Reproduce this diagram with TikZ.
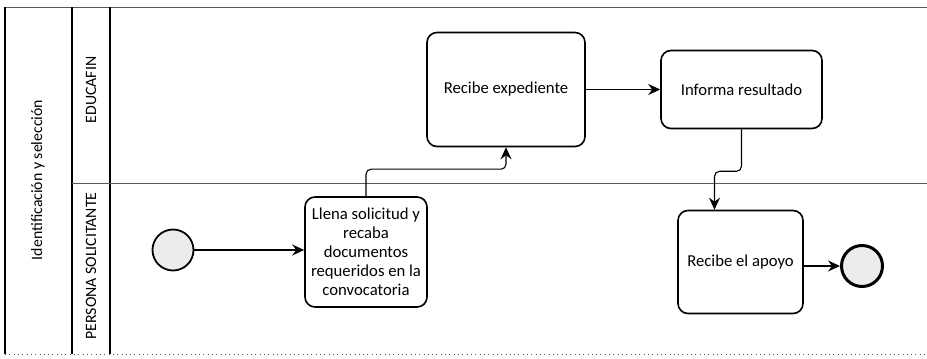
\documentclass[tikz,border=0pt]{standalone}
\usepackage{fontspec}
\setmainfont{Carlito}
\usetikzlibrary{arrows.meta}

\begin{document}
\begin{tikzpicture}[
    tarea/.style={draw, line width=0.032cm, rounded corners=0.200000cm, align=center, inner sep=0pt},
    evento/.style={draw, circle, fill=gray!15, minimum size=0.820000cm, inner sep=0pt},
    flujo/.style={line width=0.022cm, -{Stealth[length=0.240000cm, width=0.220000cm, inset=0.080000cm]}},
    marco/.style={line width=0.030cm},
    borde/.style={line width=0.016cm, black!65},
    carril/.style={rotate=90, font=\fontsize{9}{11}\selectfont}
  ]
                    \useasboundingbox (0,0) rectangle (18.540000,7.160000);
                    {\fontsize{9.5}{10.8}\selectfont

                    % Drawing pool frame
                    \draw [borde] (0.100000,7.020000) -- (18.540000,7.020000);%
                    \draw [borde, dotted] (0.100000,0.080000) -- (18.540000,0.080000);%
                    \draw [marco] (0.100000,0.080000) -- (0.100000,7.020000);%
                    \draw [marco] (1.440000,0.080000) -- (1.440000,7.020000);%
                    \draw [marco] (2.200000,0.080000) -- (2.200000,7.020000);%

                    % Drawing lane divider
                    \draw [borde] (1.440000,3.500000) -- (18.540000,3.500000);%

                    % Marking pool and lane names
                    \node [carril] (pool) at (0.760000,3.560000) {Identificación y selección};%
                    \node [carril] (educafin) at (1.820000,5.360000) {EDUCAFIN};%
                    \node [carril] (persona) at (1.820000,1.840000) {PERSONA SOLICITANTE};%

                    % Marking start event
                    \node [evento, line width=0.036cm] (inicio) at (3.460000,2.160000) {};%

                    % Marking task llena
                    \node [tarea, minimum width=2.440000cm, minimum height=2.200000cm] (llena) at (7.320000,2.120000)
                      {Llena solicitud y\\ recaba\\ documentos\\ requeridos en la\\ convocatoria};%

                    % Marking task expediente
                    \node [tarea, minimum width=3.160000cm, minimum height=2.280000cm] (expediente) at (10.120000,5.370000) {Recibe expediente};%

                    % Marking task informa
                    \node [tarea, minimum width=3.220000cm, minimum height=1.560000cm] (informa) at (14.830000,5.370000) {Informa resultado};%

                    % Marking task apoyo
                    \node [tarea, minimum width=2.500000cm, minimum height=2.060000cm] (apoyo) at (14.810000,1.920000) {Recibe el apoyo};%

                    % Marking end event
                    \node [evento, line width=0.060cm] (fin) at (17.240000,1.840000) {};%

                    % Drawing flow inicio llena
                    \draw [flujo] (inicio) -- (llena.west |- inicio);%

                    % Drawing flow llena expediente
                    \draw [flujo, rounded corners=0.100000cm] (llena.north) -- ++(0,0.540000) -| (expediente.south);%

                    % Drawing flow expediente informa
                    \draw [flujo] (expediente) -- (informa);%

                    % Drawing flow informa apoyo
                    \draw [flujo, rounded corners=0.100000cm] (informa.south) -- ++(0,-0.840000) -| ([xshift=-0.520000cm]apoyo.north);%

                    % Drawing flow apoyo fin
                    \draw [flujo] (apoyo.east |- fin) -- (fin);%
                    }
\end{tikzpicture}
\end{document}
